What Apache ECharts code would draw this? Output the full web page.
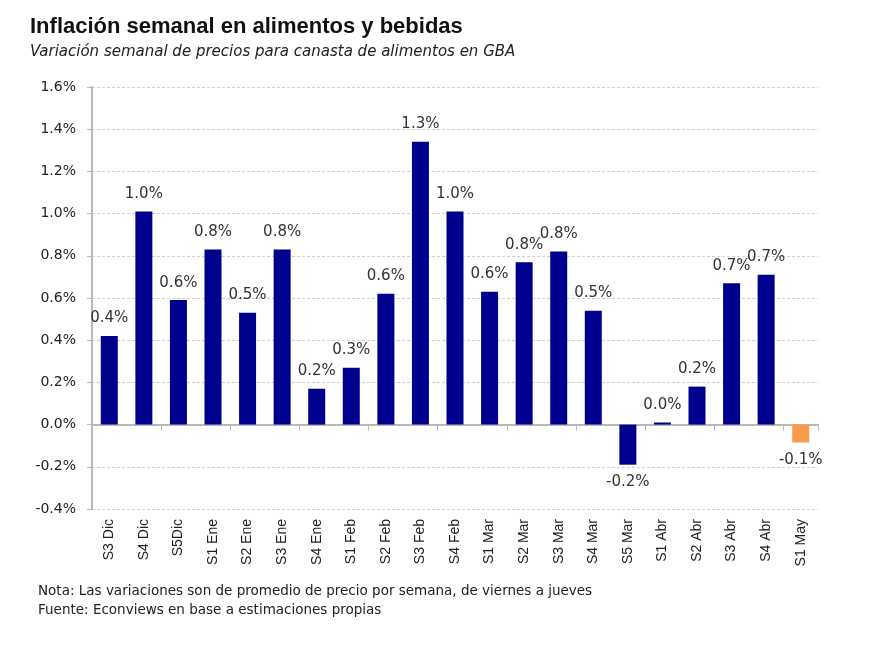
<!DOCTYPE html>
<html>
<head>
<meta charset="utf-8">
<script src="https://cdn.jsdelivr.net/npm/echarts@6/dist/echarts.min.js"></script>
<style>
html,body{margin:0;padding:0;background:#fff;}
#chart{width:892px;height:649px;}
</style>
</head>
<body>
<div id="chart"></div>
<script>
const categories = ['S3 Dic','S4 Dic','S5Dic','S1 Ene','S2 Ene','S3 Ene','S4 Ene','S1 Feb','S2 Feb','S3 Feb','S4 Feb','S1 Mar','S2 Mar','S3 Mar','S4 Mar','S5 Mar','S1 Abr','S2 Abr','S3 Abr','S4 Abr','S1 May'];
const values = [0.42, 1.01, 0.59, 0.83, 0.53, 0.83, 0.17, 0.27, 0.62, 1.34, 1.01, 0.63, 0.77, 0.82, 0.54, -0.19, 0.01, 0.18, 0.67, 0.71, -0.085];
const yTicks = { min: -0.4, max: 1.6, interval: 0.2 };
const titleText = 'Inflación semanal en alimentos y bebidas';
const subtitleText = 'Variación semanal de precios para canasta de alimentos en GBA';
const noteText = 'Nota: Las variaciones son de promedio de precio por semana, de viernes a jueves';
const sourceText = 'Fuente: Econviews en base a estimaciones propias';

const BLUE = '#00008f';
const ORANGE = '#f79a4a';
const FONT = 'DejaVu Sans';

const chart = echarts.init(document.getElementById('chart'));
const lastIdx = values.length - 1;
const seriesData = values.map((v, i) => ({
  value: v,
  itemStyle: { color: i === lastIdx ? ORANGE : BLUE },
  label: { position: v < 0 ? 'bottom' : 'top' }
}));

chart.setOption({
  animation: false,
  backgroundColor: '#fff',
  graphic: [
    { type: 'text', left: 30, top: 16, style: { text: titleText, font: 'bold 22px "Liberation Sans"', fill: '#111' } },
    { type: 'text', left: 30, top: 45, style: { text: subtitleText, font: 'italic 15px "DejaVu Sans"', fill: '#222' } },
    { type: 'text', left: 38, top: 584, style: { text: noteText, font: '13.5px "DejaVu Sans"', fill: '#222' } },
    { type: 'text', left: 38, top: 603, style: { text: sourceText, font: '13.5px "DejaVu Sans"', fill: '#222' } }
  ],
  grid: { left: 92, right: 74, top: 87, bottom: 140 },
  xAxis: [
    {
      type: 'category', data: categories, position: 'top',
      axisLine: { onZero: true, lineStyle: { color: '#b8b8b8', width: 2 } },
      axisTick: { show: true, inside: true, length: 6, lineStyle: { color: '#b8b8b8' } },
      axisLabel: { show: false },
      splitLine: { show: false }
    },
    {
      type: 'category', data: categories, position: 'bottom',
      axisLine: { show: false, onZero: false },
      axisTick: { show: false },
      axisLabel: { rotate: 90, margin: 10, fontSize: 14, color: '#222', fontFamily: 'Liberation Sans', interval: 0 }
    }
  ],
  yAxis: {
    type: 'value', min: yTicks.min, max: yTicks.max, interval: yTicks.interval,
    axisLine: { show: true, lineStyle: { color: '#b8b8b8', width: 2 } },
    axisTick: { show: true, length: 5, lineStyle: { color: '#b8b8b8' } },
    axisLabel: { formatter: v => v.toFixed(1) + '%', fontSize: 14, color: '#222', fontFamily: FONT, margin: 16 },
    splitLine: { show: true, lineStyle: { color: '#cfcfcf', type: [3, 2] } }
  },
  series: [{
    type: 'bar', xAxisIndex: 0, data: seriesData, barWidth: 17,
    label: {
      show: true, distance: 10, fontSize: 15, color: '#333', fontFamily: FONT,
      formatter: p => p.value.toFixed(1) + '%'
    }
  }]
});
</script>
</body>
</html>
